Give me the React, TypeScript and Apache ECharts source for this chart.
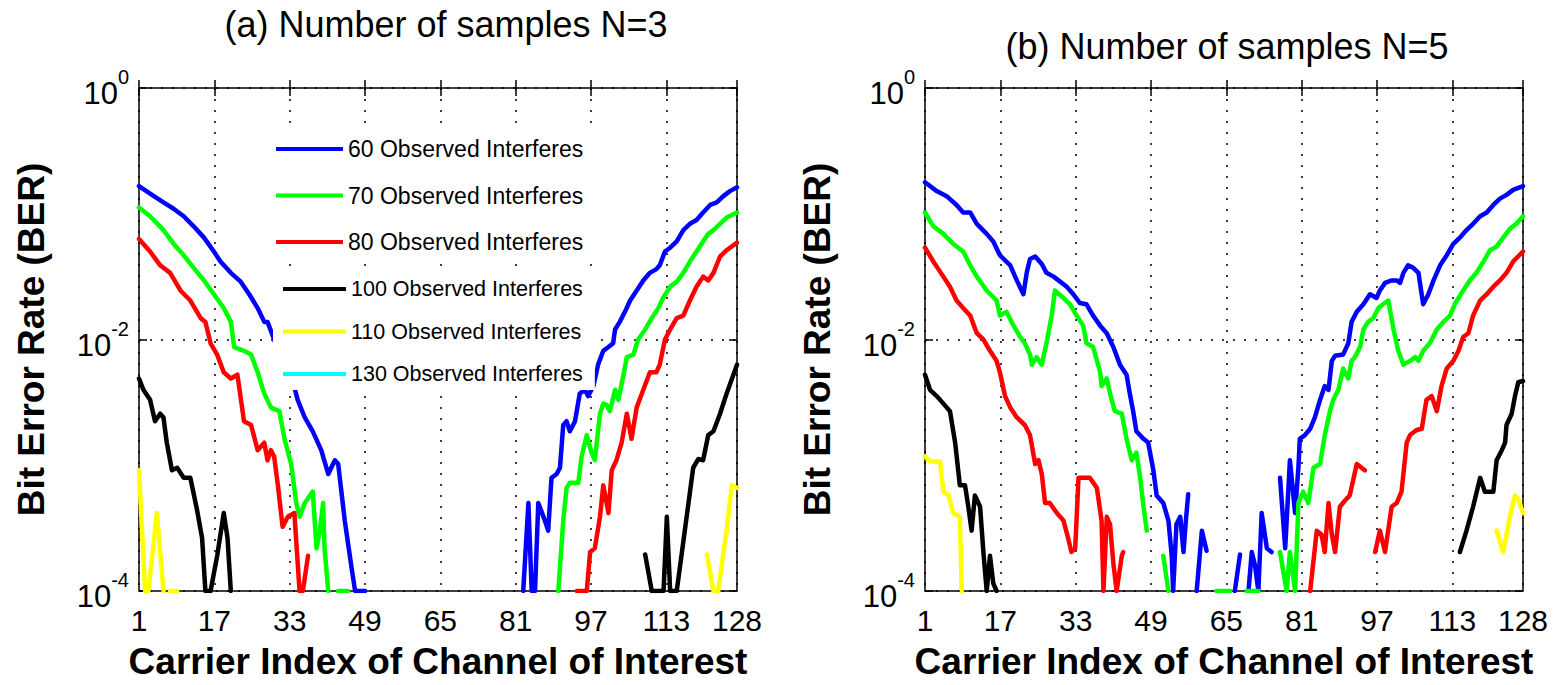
import React, { useEffect, useRef } from "react";
import * as echarts from "echarts";

// ---------- shared axis / legend content ----------
const panelTitles = ["(a) Number of samples N=3", "(b) Number of samples N=5"];
const xTickValues = [1, 17, 33, 49, 65, 81, 97, 113, 128];
const xAxisTitle = "Carrier Index of Channel of Interest";
const yAxisTitle = "Bit Error Rate (BER)";
const seriesNames = [
  "60 Observed Interferes",
  "70 Observed Interferes",
  "80 Observed Interferes",
  "100 Observed Interferes",
  "110 Observed Interferes",
  "130 Observed Interferes",
];
const seriesColors = ["#0000ff", "#00ff00", "#ff0000", "#000000", "#ffff00", "#00ffff"];

// ---------- data: [carrier index, log10(BER)] ; null = no error observed (gap) ----------
type Pt = [number, number | null];

// (a) N = 3
const a60: Pt[] = [
  [1, -0.78], [3.35, -0.84], [6.2, -0.91], [8.35, -0.96], [10.5, -1.02], [12.6, -1.1], [14.8, -1.19], [16.9, -1.3],
  [18.3, -1.38], [20.5, -1.47], [22.6, -1.54], [24.4, -1.64], [26.2, -1.75], [27.6, -1.86], [28.3, -1.86], [29.7, -2.0],
  [30.8, -2.12], [34.0, -2.38], [34.7, -2.48], [36.2, -2.62], [37.9, -2.73], [39.7, -2.88], [41.2, -3.07], [42.6, -2.96],
  [43.3, -2.99], [44.7, -3.44], [46.2, -3.83], [46.9, -4], [49, -4], [50, null],
  [82.6, -4], [83.7, -3.3], [84.4, -4], [85.1, -4], [85.8, -3.3], [87.2, -3.44], [87.9, -3.52], [88.6, -3.1], [89.7, -3.07],
  [90.4, -3.02], [91.1, -2.68], [91.8, -2.65], [92.5, -2.73], [93.6, -2.65], [94.6, -2.43], [95.7, -2.4], [96.4, -2.45],
  [97.5, -2.37], [98.5, -2.2], [99.6, -2.09], [100.7, -2.06], [101.7, -2.03], [102.1, -1.92], [103.1, -1.86], [104.2, -1.78],
  [105.3, -1.69], [106.7, -1.61], [108.1, -1.53], [109.5, -1.47], [110.9, -1.44], [111.6, -1.41], [112.7, -1.3], [113.8, -1.27],
  [115.2, -1.22], [116.6, -1.13], [118.0, -1.08], [119.4, -1.05], [120.8, -0.99], [122.3, -0.93], [123.7, -0.91], [125.1, -0.86],
  [126.5, -0.82], [128, -0.79],
];
const a70: Pt[] = [
  [1, -0.95], [3.35, -1.02], [6.2, -1.13], [8.35, -1.24], [10.5, -1.33], [12.6, -1.43], [14.8, -1.53], [16.9, -1.64],
  [19.0, -1.75], [20.5, -1.86], [21.2, -2.06], [23.3, -2.09], [24.8, -2.12], [26.2, -2.26], [27.6, -2.43], [29.0, -2.54],
  [30.8, -2.57], [31.9, -2.79], [33.3, -2.99], [34.4, -3.3], [35.1, -3.41], [36.2, -3.3], [37.9, -3.21], [38.7, -3.66],
  [39.4, -3.52], [40.1, -3.3], [40.4, -3.66], [41.2, -4], [42, null], [43.3, -4], [45.4, -4], [60, null],
  [90.05, -4], [91.1, -3.44], [91.8, -3.18], [92.5, -3.14], [94.3, -3.14], [95.0, -2.93], [96.1, -2.76], [97.1, -2.9],
  [97.8, -2.96], [98.9, -2.59], [99.6, -2.51], [100.3, -2.52], [101.0, -2.57], [102.1, -2.4], [102.8, -2.48], [103.9, -2.28],
  [104.6, -2.14], [106.0, -2.12], [107.0, -2.0], [108.5, -1.92], [109.9, -1.83], [111.3, -1.75], [112.3, -1.67], [113.8, -1.58],
  [115.2, -1.54], [116.6, -1.47], [118.0, -1.38], [119.4, -1.3], [120.8, -1.22], [121.9, -1.16], [123.0, -1.13], [124.4, -1.08],
  [125.8, -1.03], [128, -0.99],
];
const a80: Pt[] = [
  [1, -1.2], [3.35, -1.3], [5.5, -1.41], [7.6, -1.47], [9.8, -1.61], [11.9, -1.69], [14.1, -1.83], [15.1, -1.86],
  [16.2, -2.03], [17.6, -2.12], [19.0, -2.26], [20.5, -2.31], [21.9, -2.28], [23.3, -2.65], [24.8, -2.68], [26.2, -2.88],
  [27.6, -2.82], [28.3, -2.96], [29.0, -2.88], [29.7, -2.93], [30.5, -3.16], [31.5, -3.49], [32.6, -3.41], [34.0, -3.38],
  [35.1, -4], [35.8, -4], [36.9, -3.72], [37.5, null],
  [94.0, -4], [96.1, -4], [96.8, -3.69], [97.8, -3.66], [98.9, -3.41], [99.6, -3.16], [100.7, -3.38], [101.4, -3.04],
  [102.4, -2.96], [103.5, -2.82], [104.6, -2.59], [105.6, -2.79], [106.7, -2.54], [108.1, -2.4], [109.5, -2.26], [110.9, -2.26],
  [111.6, -2.2], [112.7, -2.0], [113.8, -1.92], [115.2, -1.83], [116.6, -1.81], [118.0, -1.69], [119.4, -1.58], [120.8, -1.5],
  [121.9, -1.53], [123.0, -1.47], [124.4, -1.34], [125.8, -1.29], [128, -1.23],
];
const a100: Pt[] = [
  [1, -2.31], [1.93, -2.4], [3.35, -2.48], [4.4, -2.65], [5.5, -2.59], [6.2, -2.62], [6.9, -2.82], [8.0, -3.04],
  [9.1, -3.02], [10.5, -3.1], [11.9, -3.1], [13.3, -3.35], [14.4, -3.58], [15.1, -4], [16.2, -4], [17.6, -3.72],
  [19.0, -3.38], [19.8, -3.58], [20.5, -4], [21, null],
  [108.5, -3.71], [109.9, -4], [112.4, -4], [113.1, -3.41], [113.8, -4], [115.2, -4], [118.7, -3.02], [119.8, -2.95],
  [120.8, -2.96], [121.9, -2.76], [123.0, -2.73], [124.4, -2.59], [125.8, -2.43], [128, -2.2],
];
const a110: Pt[] = [
  [1, -3.04], [2.3, -4], [3.0, -4], [4.8, -3.38], [6.2, -4], [6.9, null], [7.6, -4], [9.1, -4], [10, null],
  [121.6, -3.71], [123.0, -4], [124.0, -4], [125.8, -3.52], [126.9, -3.16], [128, -3.18],
];
const a130: Pt[] = [];

// (b) N = 5
const b60: Pt[] = [
  [1, -0.75], [3.48, -0.82], [5.6, -0.86], [7.7, -0.93], [9.1, -0.99], [10.6, -0.99], [12.0, -1.08], [14.1, -1.16],
  [15.5, -1.22], [16.9, -1.33], [19.1, -1.41], [20.5, -1.53], [21.9, -1.64], [22.6, -1.47], [23.3, -1.36], [24.4, -1.34],
  [25.8, -1.4], [26.8, -1.47], [28.3, -1.5], [29.7, -1.54], [31.1, -1.58], [32.5, -1.64], [33.9, -1.71], [35.3, -1.72],
  [36.7, -1.81], [38.2, -1.89], [39.6, -1.95], [41.0, -2.06], [42.4, -2.2], [43.8, -2.28], [44.5, -2.43], [45.2, -2.57],
  [45.9, -2.73], [47.4, -2.79], [48.4, -2.82], [49.5, -3.04], [50.2, -3.24], [51.6, -3.3], [52.7, -3.44], [53.4, -3.72],
  [53.7, -4], [54.4, -3.47], [55.2, -3.41], [55.9, -3.69], [56.4, -3.44], [56.9, -3.23], [57.5, null],
  [58.7, -4], [59.8, -3.52], [60.8, -3.68], [61.5, null],
  [66.8, -4], [67.9, -3.71], [68.5, null], [69.7, -4], [70.4, -3.69], [71.1, -3.8], [71.8, -4], [72.5, -3.38],
  [73.6, -3.66], [74.6, -3.69], [75.5, null],
  [76.4, -3.1], [77.5, -3.66], [78.5, -2.96], [79.6, -3.38], [80.3, -3.02], [80.6, -2.79], [81.7, -2.76], [82.8, -2.71],
  [83.8, -2.62], [84.9, -2.48], [85.9, -2.37], [86.7, -2.4], [87.4, -2.17], [88.1, -2.13], [89.8, -2.12], [90.9, -2.03],
  [91.6, -1.86], [92.7, -1.78], [94.1, -1.72], [95.5, -1.64], [96.9, -1.67], [97.6, -1.61], [98.7, -1.55], [100.1, -1.53],
  [101.2, -1.53], [101.9, -1.55], [102.6, -1.47], [103.6, -1.41], [104.7, -1.43], [105.8, -1.47], [106.8, -1.72], [107.9, -1.64],
  [109.0, -1.53], [110.4, -1.41], [111.8, -1.33], [113.2, -1.24], [114.6, -1.19], [116.0, -1.13], [117.4, -1.08], [118.9, -1.02],
  [120.3, -0.99], [121.7, -0.93], [123.1, -0.88], [124.5, -0.85], [125.9, -0.81], [128, -0.78],
];
const b70: Pt[] = [
  [1, -0.99], [2.77, -1.1], [4.9, -1.16], [7.0, -1.24], [9.1, -1.3], [10.6, -1.41], [12.0, -1.5], [14.1, -1.61],
  [16.2, -1.69], [16.9, -1.81], [18.3, -1.78], [19.8, -1.89], [21.2, -1.98], [22.2, -2.03], [23.3, -2.12], [23.7, -2.2],
  [24.7, -2.14], [25.8, -2.2], [26.8, -2.03], [27.9, -1.81], [28.6, -1.61], [30.4, -1.67], [31.8, -1.72], [33.2, -1.81],
  [34.6, -1.89], [35.3, -2.03], [36.7, -2.06], [38.2, -2.26], [38.5, -2.37], [39.6, -2.31], [40.3, -2.43], [41.3, -2.57],
  [42.8, -2.59], [43.8, -2.79], [44.9, -2.96], [45.9, -2.9], [46.7, -3.1], [47.4, -3.33], [48.1, -3.52], [49, null],
  [51.6, -3.72], [52.7, -4], [53.3, null], [62.9, -4], [65.8, -4], [67, null], [69.3, -4], [71.8, -4], [73, null],
  [76.4, -3.69], [77.8, -4], [78.5, -3.69], [79.6, -4], [80.3, -3.3], [81.3, -3.21], [82.4, -3.3], [83.5, -3.02],
  [84.9, -2.99], [85.9, -2.76], [87.0, -2.57], [87.7, -2.48], [88.8, -2.4], [89.8, -2.23], [90.9, -2.31], [91.6, -2.17],
  [92.3, -2.14], [93.4, -2.06], [94.1, -1.92], [95.1, -1.86], [96.2, -1.83], [97.3, -1.75], [98.3, -1.72], [99.4, -1.69],
  [100.5, -1.92], [101.5, -2.09], [102.6, -2.2], [104.0, -2.17], [105.1, -2.14], [105.8, -2.17], [106.8, -2.09], [108.2, -2.03],
  [109.7, -1.92], [111.1, -1.86], [112.5, -1.81], [113.5, -1.72], [115.3, -1.61], [116.7, -1.53], [118.1, -1.47], [119.6, -1.38],
  [121.0, -1.29], [122.4, -1.26], [123.8, -1.19], [125.2, -1.12], [126.6, -1.08], [128, -1.02],
];
const b80: Pt[] = [
  [1, -1.27], [2.77, -1.38], [4.9, -1.5], [6.3, -1.58], [7.7, -1.69], [9.1, -1.75], [10.6, -1.81], [12.0, -1.95],
  [13.4, -2.0], [14.8, -2.09], [16.2, -2.17], [16.9, -2.26], [18.0, -2.45], [19.1, -2.54], [20.5, -2.62], [22.2, -2.68],
  [23.3, -2.76], [24.4, -2.99], [25.1, -2.96], [25.8, -3.07], [26.5, -3.3], [27.5, -3.3], [29.0, -3.38], [30.4, -3.44],
  [31.4, -3.58], [32.1, -3.69], [32.9, -3.66], [33.6, -3.1], [34.6, -3.1], [36.0, -3.1], [37.5, -3.18], [38.5, -3.44],
  [38.9, -4], [39.6, -3.41], [40.3, -3.47], [41.0, -3.78], [41.7, -4], [42.8, -3.72], [43.1, -3.69], [44, null],
  [82.8, -4], [84.2, -3.52], [85.2, -3.55], [85.9, -3.69], [86.7, -3.3], [87.4, -3.55], [88.1, -3.69], [89.1, -3.33],
  [90.2, -3.28], [91.2, -3.24], [92.7, -2.99], [93.7, -3.02], [94.4, -3.04], [95.5, null],
  [96.6, -3.69], [97.6, -3.52], [98.7, -3.69], [100.1, -3.33], [101.2, -3.3], [102.2, -3.21], [103.3, -2.82], [104.0, -2.76],
  [105.4, -2.72], [106.5, -2.71], [107.5, -2.48], [108.6, -2.45], [109.7, -2.57], [110.7, -2.37], [111.8, -2.23], [113.2, -2.17],
  [114.3, -2.09], [115.3, -1.98], [116.4, -1.95], [117.4, -1.81], [118.9, -1.69], [120.3, -1.64], [121.7, -1.58], [123.1, -1.53],
  [124.5, -1.47], [125.9, -1.38], [128, -1.3],
];
const b100: Pt[] = [
  [1, -2.28], [2.06, -2.4], [3.48, -2.45], [4.9, -2.51], [6.3, -2.57], [7.4, -2.82], [8.4, -3.16], [9.5, -3.16],
  [10.2, -3.33], [10.9, -3.52], [11.6, -3.24], [12.7, -3.33], [13.4, -3.69], [14.1, -4], [14.8, -3.72], [15.5, -3.94],
  [16.2, -4], [17, null],
  [114.6, -3.69], [116.0, -3.52], [117.4, -3.33], [118.9, -3.1], [119.9, -3.21], [121.7, -3.21], [122.4, -2.96], [123.5, -2.88],
  [124.2, -2.82], [124.5, -2.68], [125.6, -2.59], [126.3, -2.45], [127.0, -2.34], [128, -2.33],
];
const b110: Pt[] = [
  [1, -2.93], [2.06, -2.97], [4.2, -2.97], [4.9, -3.21], [6.0, -3.24], [7.0, -3.38], [8.4, -3.41], [8.8, -4], [9.5, null],
  [122.4, -3.52], [123.8, -3.69], [125.2, -3.41], [126.3, -3.24], [127.0, -3.27], [128, -3.38],
];
const b130: Pt[] = [];

const panelData: Pt[][][] = [
  [a60, a70, a80, a100, a110, a130],
  [b60, b70, b80, b100, b110, b130],
];

// ---------- layout ----------
const FONT = "'Liberation Sans', Arial, Helvetica, sans-serif";
const GRID_LEFTS = [139, 925];
const GRID_TOP = 88;
const GRID_W = 598;
const GRID_H = 508;
const TITLE_POS: [number, number][] = [[446, 24], [1227, 46]];
const DOT: number[] = [2, 9];

function buildOption() {
  const grid = GRID_LEFTS.map((l) => ({
    left: l, top: GRID_TOP, width: GRID_W, height: GRID_H,
    show: true, borderColor: "#000", borderWidth: 1.5, backgroundColor: "transparent",
  }));

  const xAxis: any[] = [];
  const yAxis: any[] = [];
  GRID_LEFTS.forEach((_, g) => {
    xAxis.push({
      type: "value", gridIndex: g, min: 1, max: 128, position: "bottom",
      axisLine: { show: false },
      axisTick: { show: true, inside: true, length: 8, customValues: xTickValues, lineStyle: { color: "#000", width: 1.5 } },
      axisLabel: {
        customValues: xTickValues, showMinLabel: true, showMaxLabel: true,
        fontSize: 30, color: "#000", margin: 14, fontFamily: FONT,
      },
      splitLine: { show: true, lineStyle: { color: "#000", width: 1.5, type: DOT } },
      name: xAxisTitle, nameLocation: "middle", nameGap: 52,
      nameTextStyle: { fontSize: 37, fontWeight: "bold", color: "#000", fontFamily: FONT },
    });
    xAxis.push({
      type: "value", gridIndex: g, min: 1, max: 128, position: "top",
      axisLine: { show: false },
      axisTick: { show: true, inside: true, length: 8, customValues: xTickValues, lineStyle: { color: "#000", width: 1.5 } },
      axisLabel: { show: false },
      splitLine: { show: false },
    });
    yAxis.push({
      type: "value", gridIndex: g, min: -4, max: 0, interval: 2, position: "left",
      axisLine: { show: false },
      axisTick: { show: true, inside: true, length: 8, lineStyle: { color: "#000", width: 1.5 } },
      axisLabel: {
        margin: 10,
        formatter: (v: number) => `{b|10}{s|${v === 0 ? 0 : v}}`,
        rich: {
          b: { fontSize: 31, lineHeight: 42, verticalAlign: "bottom", color: "#000", fontFamily: FONT },
          s: { fontSize: 20, lineHeight: 18, verticalAlign: "top", color: "#000", fontFamily: FONT },
        },
      },
      splitLine: { show: true, lineStyle: { color: "#000", width: 1.5, type: DOT } },
      name: yAxisTitle, nameLocation: "middle", nameGap: 89, nameRotate: 90,
      nameTextStyle: { fontSize: 37, fontWeight: "bold", color: "#000", fontFamily: FONT },
    });
    yAxis.push({
      type: "value", gridIndex: g, min: -4, max: 0, interval: 2, position: "right",
      axisLine: { show: false },
      axisTick: { show: true, inside: true, length: 8, lineStyle: { color: "#000", width: 1.5 } },
      axisLabel: { show: false },
      splitLine: { show: false },
    });
  });

  const series: any[] = [];
  panelData.forEach((lines, g) => {
    lines.forEach((pts, k) => {
      series.push({
        type: "line", name: seriesNames[k],
        xAxisIndex: g * 2, yAxisIndex: g * 2,
        data: pts, showSymbol: false, symbol: "none", clip: true,
        lineStyle: { color: seriesColors[k], width: 4.5, cap: "round", join: "round" },
        itemStyle: { color: seriesColors[k] },
        emphasis: { disabled: true },
      });
    });
  });

  const legend = [
    {
      orient: "vertical", left: 273, top: 128, padding: [9, 10, 9, 3],
      itemWidth: 67, itemHeight: 4, itemGap: 22.5, icon: "rect",
      backgroundColor: "#fff", borderWidth: 0, selectedMode: false,
      textStyle: { fontSize: 23, lineHeight: 24, color: "#000", fontFamily: FONT },
      data: seriesNames.slice(0, 3),
    },
    {
      orient: "vertical", left: 273, top: 266, padding: [11, 12, 4, 10],
      itemWidth: 63, itemHeight: 4, itemGap: 18.5, icon: "rect",
      backgroundColor: "#fff", borderWidth: 0, selectedMode: false,
      textStyle: { fontSize: 21.5, lineHeight: 24, color: "#000", fontFamily: FONT },
      data: seriesNames.slice(3),
    },
  ];

  const graphic = panelTitles.map((t, i) => ({
    type: "text", x: TITLE_POS[i][0], y: TITLE_POS[i][1], silent: true,
    style: { text: t, fontSize: 36, fontFamily: FONT, fill: "#000", align: "center", verticalAlign: "middle" },
  }));

  return {
    animation: false,
    backgroundColor: "#fff",
    textStyle: { fontFamily: FONT },
    grid, xAxis, yAxis, series, legend, graphic,
  };
}

export default function App() {
  const ref = useRef<HTMLDivElement>(null);
  useEffect(() => {
    if (!ref.current) return;
    const chart = echarts.init(ref.current, undefined, { renderer: "svg" });
    chart.setOption(buildOption() as any);
    return () => chart.dispose();
  }, []);
  return (
    <div
      ref={ref}
      style={{ position: "absolute", left: 0, top: 0, width: 1560, height: 685, background: "#fff" }}
    />
  );
}
